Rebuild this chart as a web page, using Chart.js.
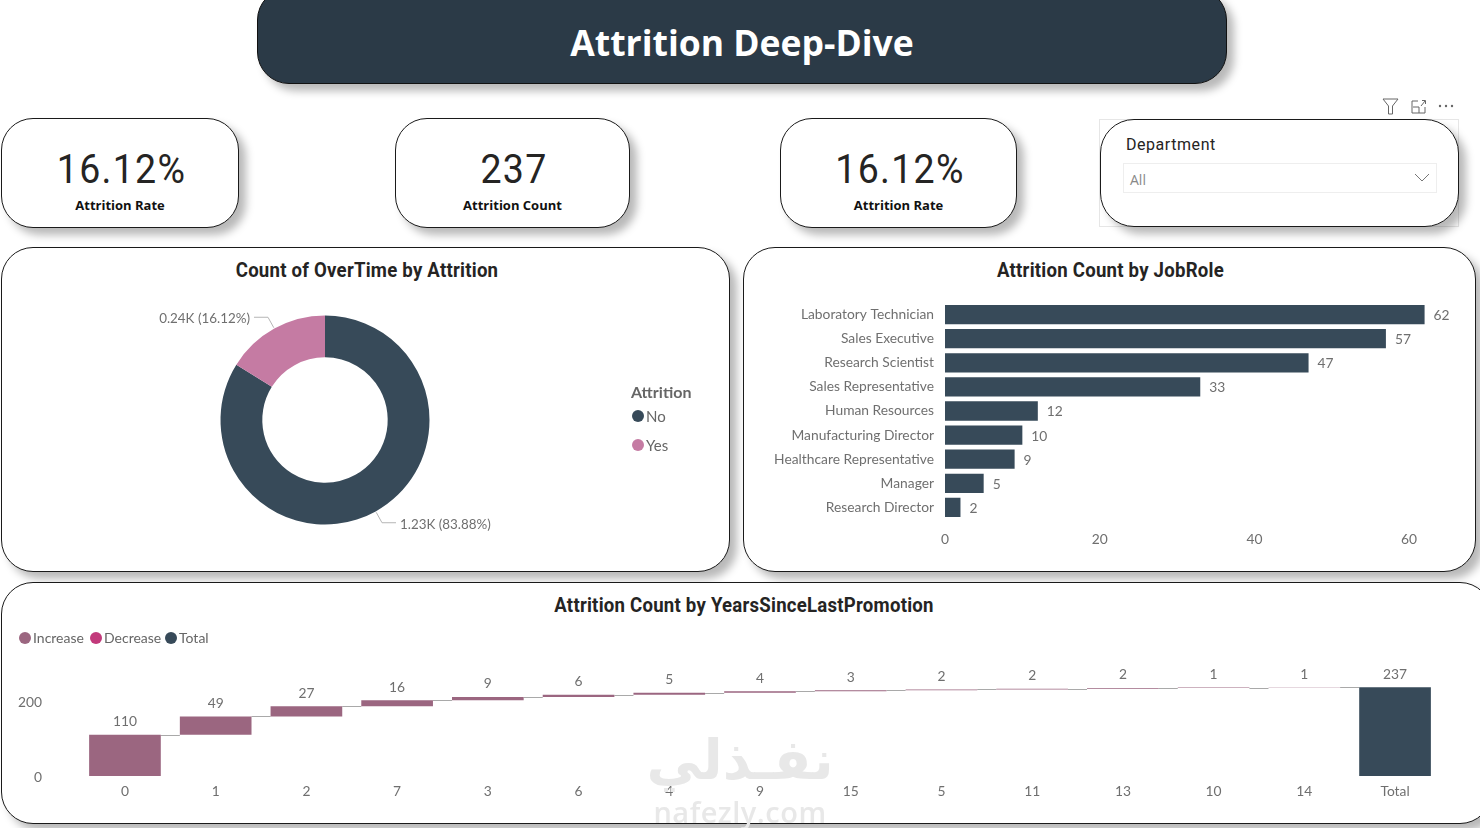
<!DOCTYPE html>
<html><head><meta charset="utf-8">
<script src="https://cdn.jsdelivr.net/npm/chart.js@4/dist/chart.umd.min.js"></script>
<style>
html,body{margin:0;padding:0;background:#fff;overflow:hidden}
body{position:relative;width:1480px;height:828px;font-family:Lato,sans-serif}
.abs,.card,.panel,canvas,.t{position:absolute}
.card,.panel{background:#fff;border:1px solid #1a1a1a;box-sizing:border-box;box-shadow:7px 7px 9px rgba(0,0,0,.28)}
.card{border-radius:32px;top:118px;height:110px}
.panel{border-radius:32px}
.hdr{left:257px;top:-12px;width:970px;height:96px;background:#2b3a47;border:1px solid #111;box-sizing:border-box;border-radius:32px;box-shadow:7px 7px 9px rgba(0,0,0,.28);color:#fff;position:absolute;
 font:700 35.5px "Open Sans",sans-serif;text-align:center;line-height:107px}
.kv{position:absolute;left:3px;right:0;top:25px;text-align:center;font:400 41px Roboto,sans-serif;letter-spacing:1.4px;color:#252423;line-height:50px;transform:scaleX(.915)}
.kl{position:absolute;left:0;right:0;top:77px;text-align:center;font:700 13px "Open Sans",sans-serif;color:#111;line-height:18px}
.pt{position:absolute;left:0;right:0;text-align:center;font:700 20px "Liberation Sans Narrow",Roboto,sans-serif;color:#252423;letter-spacing:.25px;line-height:24px;transform:scaleX(.93)}
.lg{position:absolute;font:400 15px Lato,sans-serif;color:#666;line-height:20px;white-space:nowrap}
.dot{position:absolute;width:12px;height:12px;border-radius:50%}
</style></head><body>
<div class="hdr" id="title"></div>

<div class="card" style="left:1px;width:238px"><div class="kv" id="k0"></div><div class="kl" id="l0"></div></div>
<div class="card" style="left:395px;width:235px"><div class="kv" id="k1"></div><div class="kl" id="l1"></div></div>
<div class="card" style="left:780px;width:237px"><div class="kv" id="k2"></div><div class="kl" id="l2"></div></div>

<div class="abs" style="left:1099px;top:119px;width:360px;height:108px;border:1px solid #e6e6e6;box-sizing:border-box"></div>
<div class="card" style="left:1100px;top:119px;width:359px;height:108px;border-radius:34px">
  <div class="abs" style="left:25px;top:14px;font:400 16px Roboto,sans-serif;letter-spacing:.55px;color:#252423;line-height:22px" id="slT"></div>
  <div class="abs" style="left:22px;top:43px;width:314px;height:30px;border:1px solid #eee;box-sizing:border-box"></div>
  <div class="abs" style="left:29px;top:50px;font:400 14px 'Open Sans',sans-serif;color:#888;line-height:20px" id="slV"></div>
  <svg class="abs" style="left:313px;top:53px" width="16" height="10"><path d="M1 1 L8 8 L15 1" fill="none" stroke="#777" stroke-width="1"/></svg>
</div>
<svg class="abs" style="left:1380px;top:96px" width="80" height="20" fill="none" stroke="#666" stroke-width="1">
  <path d="M3 3 H18 L12.5 10 V18 H8.5 V10 Z"/>
  <path d="M32 5 H38 M32 5 V17 H45 V11 M33 11 H39 V17 M41 10 L45 5 M42 4.5 H45.5 V8"/>
  <g fill="#666" stroke="none"><circle cx="60" cy="10" r="1.2"/><circle cx="66" cy="10" r="1.2"/><circle cx="72" cy="10" r="1.2"/></g>
</svg>

<div class="panel" style="left:1px;top:247px;width:729px;height:325px"><div class="pt" style="top:10px;left:3px" id="pt0"></div></div>
<div class="panel" style="left:743px;top:247px;width:733px;height:325px"><div class="pt" style="top:10px;left:2px" id="pt1"></div></div>
<div class="panel" style="left:1px;top:582px;width:1491px;height:242px"><div class="pt" style="top:10px;width:1484px" id="pt2"></div></div>

<canvas id="cDonut" width="727" height="323" style="left:2px;top:248px"></canvas>
<canvas id="cBar" width="731" height="323" style="left:744px;top:248px"></canvas>
<canvas id="cFall" width="1480" height="240" style="left:0;top:583px"></canvas>

<div class="lg" style="left:631px;top:382px;font-weight:700;font-size:16px;color:#666" id="dlT"></div>
<div id="dl"></div>
<div id="fl"></div>

<div class="abs" dir="rtl" style="left:640px;top:715px;width:200px;text-align:center;font:700 55px 'DejaVu Sans',sans-serif;color:#e8e8e8;line-height:90px;pointer-events:none" id="wm1"></div>
<div class="abs" style="left:640px;top:792px;width:200px;text-align:center;font:600 29px 'Open Sans',sans-serif;letter-spacing:.5px;color:#e8e8e8;line-height:40px;pointer-events:none" id="wm2"></div>

<script>
const titleText = "Attrition Deep-Dive";
const kpiValues = ["16.12%", "237", "16.12%"];
const kpiLabels = ["Attrition Rate", "Attrition Count", "Attrition Rate"];
const slicerTitle = "Department";
const slicerValue = "All";
const panelTitles = ["Count of OverTime by Attrition", "Attrition Count by JobRole", "Attrition Count by YearsSinceLastPromotion"];

const attritionLegendTitle = "Attrition";
const attritionCats = ["No", "Yes"];
const attritionVals = [1233, 237];

const jobRoles = ["Laboratory Technician","Sales Executive","Research Scientist","Sales Representative","Human Resources","Manufacturing Director","Healthcare Representative","Manager","Research Director"];
const jobCounts = [62, 57, 47, 33, 12, 10, 9, 5, 2];
const jobTicks = [0, 20, 40, 60];

const promoYears = ["0","1","2","7","3","6","4","9","15","5","11","13","10","14"];
const promoCounts = [110, 49, 27, 16, 9, 6, 5, 4, 3, 2, 2, 2, 1, 1];
const promoTotalLabel = "Total";
const promoTotal = 237;
const promoTicks = [0, 200];
const fallLegend = ["Increase", "Decrease", "Total"];

const DARK = "#374a59", PINK = "#c57ba3", RISE = "#9b6680", FALL = "#c23a7b";
const LABEL = "#6f6f6f";
const LFONT = "13.8px Lato, sans-serif";
const DFONT = "13.4px Lato, sans-serif";

document.getElementById("title").textContent = titleText;
kpiValues.forEach((v,i)=>{document.getElementById("k"+i).textContent=v;document.getElementById("l"+i).textContent=kpiLabels[i];});
panelTitles.forEach((v,i)=>{document.getElementById("pt"+i).textContent=v;});
document.getElementById("slT").textContent=slicerTitle;
document.getElementById("slV").textContent=slicerValue;
document.getElementById("dlT").textContent=attritionLegendTitle;
document.getElementById("wm1").textContent="نفـذلي";
document.getElementById("wm2").textContent="nafezly.com";

function addLegend(host, items, colors, xs, ys, tx){
  const h=document.getElementById(host);
  items.forEach((t,i)=>{
    const d=document.createElement("div");d.className="dot";d.style.left=xs[i]+"px";d.style.top=(ys[i]-6)+"px";d.style.background=colors[i];h.appendChild(d);
    const l=document.createElement("div");l.className="lg";l.textContent=t;l.style.left=(xs[i]+tx)+"px";l.style.top=(ys[i]-10)+"px";h.appendChild(l);
  });
}
addLegend("dl", attritionCats, [DARK,PINK], [632,632], [416,445], 14);
addLegend("fl", fallLegend, [RISE,FALL,DARK], [19,90,165], [638,638,638], 14);
document.querySelectorAll("#fl .lg").forEach(e=>{e.style.fontSize="14px";});

Chart.defaults.animation=false;
Chart.defaults.responsive=false;
Chart.defaults.font.family="Lato, sans-serif";
Chart.defaults.plugins.legend.display=false;
Chart.defaults.plugins.tooltip.enabled=false;

/* doughnut */
const donutLabels = {
  id:"donutLabels",
  afterDatasetsDraw(c){
    const ctx=c.ctx, total=attritionVals.reduce((a,b)=>a+b,0);
    c.getDatasetMeta(0).data.forEach((a,i)=>{
      const mid=(a.startAngle+a.endAngle)/2;
      const px=a.x+Math.cos(mid)*(a.outerRadius+1), py=a.y+Math.sin(mid)*(a.outerRadius+1);
      const ex=a.x+Math.cos(mid)*(a.outerRadius+13), ey=a.y+Math.sin(mid)*(a.outerRadius+13);
      const right=Math.cos(mid)>=0;
      const hx=ex+(right?14:-14);
      ctx.save();
      ctx.strokeStyle="#b5b5b5";ctx.lineWidth=1;
      ctx.beginPath();ctx.moveTo(px,py);ctx.lineTo(ex,ey);ctx.lineTo(hx,ey);ctx.stroke();
      ctx.fillStyle=LABEL;ctx.font=DFONT;ctx.textBaseline="middle";ctx.textAlign=right?"left":"right";
      const s=(attritionVals[i]/1000).toFixed(2)+"K ("+(attritionVals[i]/total*100).toFixed(2)+"%)";
      ctx.fillText(s,hx+(right?4:-4),ey+1.5);
      ctx.restore();
    });
  }
};
new Chart(document.getElementById("cDonut"),{
  type:"doughnut",
  data:{labels:attritionCats,datasets:[{data:attritionVals,backgroundColor:[DARK,PINK],borderWidth:0}]},
  options:{cutout:"60%",layout:{padding:{left:218.5,right:299.5,top:67.5,bottom:46.5}}},
  plugins:[donutLabels]
});

/* horizontal bars */
const barLabels={
  id:"barLabels",
  afterDatasetsDraw(c){
    const ctx=c.ctx;ctx.save();ctx.fillStyle=LABEL;ctx.font=LFONT;ctx.textBaseline="middle";ctx.textAlign="left";
    c.getDatasetMeta(0).data.forEach((b,i)=>ctx.fillText(String(jobCounts[i]),b.x+9,b.y+1));
    ctx.restore();
  }
};
new Chart(document.getElementById("cBar"),{
  type:"bar",
  data:{labels:jobRoles,datasets:[{data:jobCounts,backgroundColor:DARK,categoryPercentage:1,barPercentage:.8}]},
  options:{
    indexAxis:"y",
    layout:{padding:{left:0,right:4,top:54.5,bottom:0}},
    scales:{
      x:{min:0,max:68,border:{display:false},grid:{display:false,drawTicks:false},
         afterBuildTicks(s){s.ticks=jobTicks.map(v=>({value:v}));},
         afterFit(s){s.height=51.5;},
         ticks:{padding:11.5,color:LABEL,font:{size:13.8},maxRotation:0}},
      y:{border:{display:false},grid:{display:false,drawTicks:false},
         afterFit(s){s.width=201;},
         ticks:{padding:11,color:LABEL,font:{size:13.8},autoSkip:false}}
    }
  },
  plugins:[barLabels]
});

/* waterfall */
const fallCats=[...promoYears,promoTotalLabel];
let run=0;
const riseRanges=promoCounts.map(v=>{const r=[run,run+v];run+=v;return r;});
const fallLabels=[...promoCounts,promoTotal];
const waterfallExtras={
  id:"waterfallExtras",
  beforeDatasetsDraw(c){
    const ctx=c.ctx,bars=c.getDatasetMeta(0).data,tb=c.getDatasetMeta(2).data[promoCounts.length],y=c.scales.y;
    ctx.save();ctx.strokeStyle="#a9a9a9";ctx.lineWidth=1;ctx.beginPath();
    riseRanges.forEach((r,i)=>{
      const b=bars[i];
      const nx=i<riseRanges.length-1?bars[i+1]:tb;
      const py=Math.round(y.getPixelForValue(r[1]))+.5;
      ctx.moveTo(b.x+b.width/2,py);ctx.lineTo(nx.x-nx.width/2,py);
    });
    ctx.stroke();ctx.restore();
  },
  afterDatasetsDraw(c){
    const ctx=c.ctx,y=c.scales.y,x=c.scales.x;
    ctx.save();ctx.fillStyle=LABEL;ctx.font=LFONT;ctx.textAlign="center";ctx.textBaseline="middle";
    fallCats.forEach((k,i)=>{
      const top=i<promoCounts.length?riseRanges[i][1]:promoTotal;
      ctx.fillText(String(fallLabels[i]),x.getPixelForValue(i),y.getPixelForValue(top)-13);
    });
    ctx.restore();
  }
};
new Chart(document.getElementById("cFall"),{
  type:"bar",
  data:{labels:fallCats,datasets:[
    {label:fallLegend[0],data:[...riseRanges,null],backgroundColor:RISE,grouped:false,categoryPercentage:1,barPercentage:.79},
    {label:fallLegend[1],data:fallCats.map(()=>null),backgroundColor:FALL,grouped:false,categoryPercentage:1,barPercentage:.79},
    {label:fallLegend[2],data:[...promoCounts.map(()=>null),[0,promoTotal]],backgroundColor:DARK,grouped:false,categoryPercentage:1,barPercentage:.79}
  ]},
  options:{
    layout:{padding:{left:0,right:39.6,top:80.5,bottom:0}},
    scales:{
      x:{border:{display:false},grid:{display:false,drawTicks:false},
         afterFit(s){s.height=47;},
         ticks:{padding:7,color:LABEL,font:{size:13.8},autoSkip:false,maxRotation:0}},
      y:{min:0,max:300,border:{display:false},grid:{display:false,drawTicks:false},
         afterBuildTicks(s){s.ticks=promoTicks.map(v=>({value:v}));},
         afterFit(s){s.width=79.6;},
         ticks:{padding:37.6,labelOffset:1.5,color:LABEL,font:{size:13.8}}}
    }
  },
  plugins:[waterfallExtras]
});
</script>
</body></html>
